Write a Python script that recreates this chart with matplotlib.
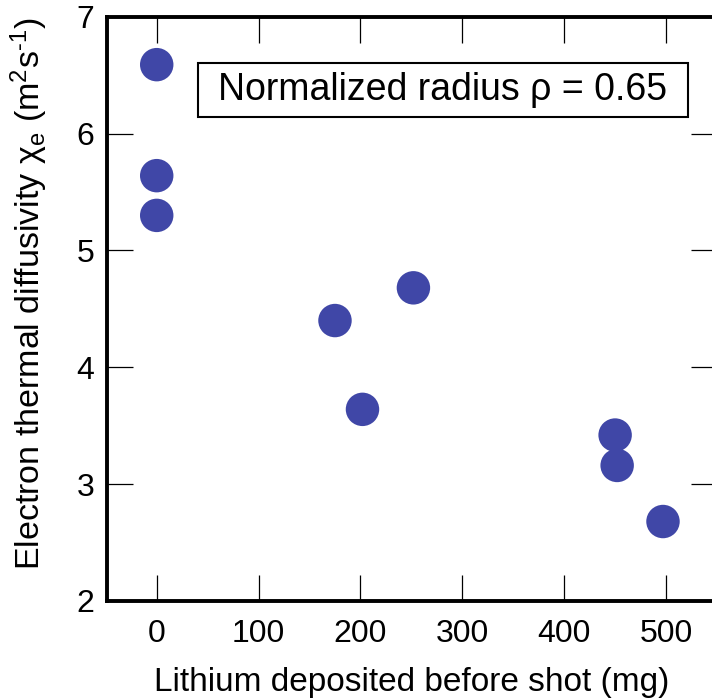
import matplotlib
matplotlib.use("Agg")
import matplotlib.pyplot as plt
from matplotlib.patches import Rectangle

# lithium deposited (mg) and electron thermal diffusivity (m^2/s)
lithium_mg = [0, 0, 0, 175, 202, 252, 450, 452, 497]
chi_e = [6.59, 5.64, 5.30, 4.40, 3.64, 4.68, 3.42, 3.16, 2.68]

xticks = [0, 100, 200, 300, 400, 500]
yticks = [2, 3, 4, 5, 6, 7]


def main():
    plt.rcParams['font.family'] = ['Liberation Sans', 'DejaVu Sans']
    plt.rcParams['mathtext.fontset'] = 'custom'
    plt.rcParams['mathtext.rm'] = 'Liberation Sans'
    plt.rcParams['mathtext.it'] = 'Liberation Sans:italic'

    fig = plt.figure(figsize=(7.12, 6.98), dpi=100)
    ax = fig.add_axes([0.150, 0.139, 0.857, 0.837])

    ax.scatter(lithium_mg, chi_e, s=580, color='#4047a7', edgecolors='none', zorder=3)

    ax.set_xlim(-49, 550)
    ax.set_ylim(2, 7)
    ax.set_xticks(xticks)
    ax.set_yticks(yticks)
    ax.tick_params(direction='in', length=19, width=0.9, top=True, right=True,
                   labelsize=23)
    ax.tick_params(axis='x', pad=13)
    ax.tick_params(axis='y', pad=9)
    for sp in ax.spines.values():
        sp.set_linewidth(2.8)

    ax.set_xlabel('Lithium deposited before shot (mg)', fontsize=24, labelpad=13)
    ax.set_ylabel(r'Electron thermal diffusivity $\mathrm{\chi}_\mathrm{e}$ (m$^2$s$^{\text{-}1}$)',
                  fontsize=24.5)
    ax.yaxis.set_label_coords(-0.093, 0.526)

    # annotation box
    ax.add_patch(Rectangle((0.149, 0.829), 0.803, 0.091, transform=ax.transAxes,
                           facecolor='white', edgecolor='black', linewidth=1.5, zorder=4))
    ax.text(0.551, 0.874, 'Normalized radius \u03c1 = 0.65', transform=ax.transAxes,
            fontsize=27, ha='center', va='center', zorder=5)

    fig.savefig('out.png', dpi=100)


if __name__ == "__main__":
    main()
